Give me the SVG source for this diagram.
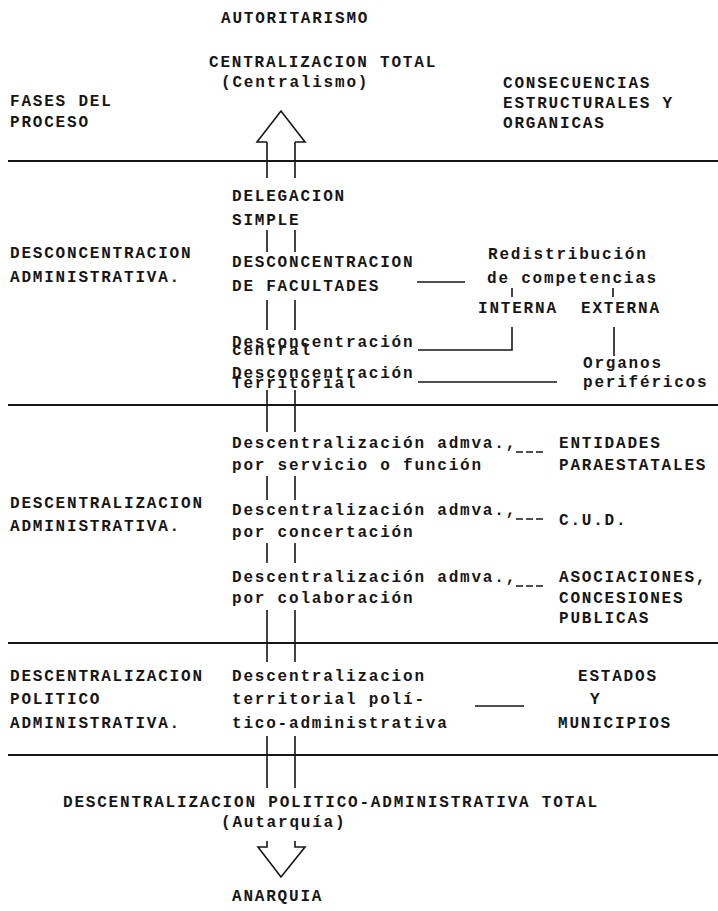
<svg xmlns="http://www.w3.org/2000/svg" width="718" height="911" viewBox="0 0 718 911">
<style>
text { font-family: "Liberation Mono", "DejaVu Sans Mono", monospace; font-size: 16px; letter-spacing: 1.8px; fill: #161616; font-weight: bold; }
.rule { stroke: #161616; stroke-width: 2; fill: none; }
.shaft { stroke: #161616; stroke-width: 1.6; fill: none; }
.conn { stroke: #161616; stroke-width: 1.6; fill: none; }
.dash { stroke: #161616; stroke-width: 1.6; fill: none; stroke-dasharray: 7 3; }
</style>
<rect width="718" height="911" fill="#ffffff"/>

<g id="rules">
  <line class="rule" x1="8" y1="161" x2="718" y2="161"/>
  <line class="rule" x1="8" y1="405" x2="718" y2="405"/>
  <line class="rule" x1="8" y1="643" x2="718" y2="643"/>
  <line class="rule" x1="8" y1="755" x2="718" y2="755"/>
</g>

<g id="connectors">
  <path class="shaft" d="M267,142 H257 L281,111 L305,142 H295"/>
  <path class="shaft" d="M267,142 V178 M295,142 V178"/>
  <path class="shaft" d="M267,230 V252 M295,230 V252"/>
  <path class="shaft" d="M267,300 V330 M295,300 V330"/>
  <path class="shaft" d="M267,390 V432 M295,390 V432"/>
  <path class="shaft" d="M267,476 V500 M295,476 V500"/>
  <path class="shaft" d="M267,543 V563 M295,543 V563"/>
  <path class="shaft" d="M267,610 V662 M295,610 V662"/>
  <path class="shaft" d="M267,736 V788 M295,736 V788"/>
  <path class="shaft" d="M267,841 V847 H258 L281,877 L305,847 H295 V841"/>
  <line class="conn" x1="417" y1="282" x2="465" y2="282"/>
  <line class="conn" x1="512" y1="288" x2="512" y2="297"/>
  <line class="conn" x1="613" y1="288" x2="613" y2="297"/>
  <path class="conn" d="M418,350 H512 V327"/>
  <line class="conn" x1="614" y1="327" x2="614" y2="356"/>
  <line class="conn" x1="418" y1="382" x2="557" y2="382"/>
  <line class="dash" x1="516" y1="452" x2="545" y2="452"/>
  <line class="dash" x1="516" y1="519" x2="545" y2="519"/>
  <line class="dash" x1="516" y1="586" x2="545" y2="586"/>
  <line class="conn" x1="475" y1="706" x2="524" y2="706"/>
</g>

<g id="top">
  <text x="221" y="23">AUTORITARISMO</text>
  <text x="209" y="67">CENTRALIZACION TOTAL</text>
  <text x="221" y="87">(Centralismo)</text>
</g>
<g id="header-left">
  <text x="10" y="106">FASES DEL</text>
  <text x="10" y="127">PROCESO</text>
</g>
<g id="header-right">
  <text x="503" y="88">CONSECUENCIAS</text>
  <text x="503" y="108">ESTRUCTURALES Y</text>
  <text x="503" y="128">ORGANICAS</text>
</g>

<g id="phase1">
  <text x="10" y="258">DESCONCENTRACION</text>
  <text x="10" y="282">ADMINISTRATIVA.</text>
</g>
<g id="delegacion">
  <text x="232" y="201">DELEGACION</text>
  <text x="232" y="225">SIMPLE</text>
</g>
<g id="desc-facultades">
  <text x="232" y="267">DESCONCENTRACION</text>
  <text x="232" y="291">DE FACULTADES</text>
</g>
<g id="redistribucion">
  <text x="488" y="259">Redistribución</text>
  <text x="487" y="283">de competencias</text>
</g>
<g id="interna"><text x="478" y="313">INTERNA</text></g>
<g id="externa"><text x="581" y="313">EXTERNA</text></g>
<g id="desc-central">
  <text x="232" y="347">Desconcentración</text>
  <text x="232" y="355">central</text>
</g>
<g id="desc-territorial">
  <text x="232" y="378">Desconcentración</text>
  <text x="232" y="388">Territorial</text>
</g>
<g id="organos">
  <text x="583" y="368">Organos</text>
  <text x="583" y="387">periféricos</text>
</g>

<g id="phase2">
  <text x="10" y="508">DESCENTRALIZACION</text>
  <text x="10" y="531">ADMINISTRATIVA.</text>
</g>
<g id="desc-servicio">
  <text x="232" y="448">Descentralización admva.,</text>
  <text x="232" y="470">por servicio o función</text>
</g>
<g id="entidades">
  <text x="559" y="448">ENTIDADES</text>
  <text x="559" y="470">PARAESTATALES</text>
</g>
<g id="desc-concertacion">
  <text x="232" y="515">Descentralización admva.,</text>
  <text x="232" y="537">por concertación</text>
</g>
<g id="cud"><text x="559" y="525">C.U.D.</text></g>
<g id="desc-colaboracion">
  <text x="232" y="582">Descentralización admva.,</text>
  <text x="232" y="603">por colaboración</text>
</g>
<g id="asociaciones">
  <text x="559" y="582">ASOCIACIONES,</text>
  <text x="559" y="603">CONCESIONES</text>
  <text x="559" y="623">PUBLICAS</text>
</g>

<g id="phase3">
  <text x="10" y="681">DESCENTRALIZACION</text>
  <text x="10" y="704">POLITICO</text>
  <text x="10" y="728">ADMINISTRATIVA.</text>
</g>
<g id="desc-territorial-politica">
  <text x="232" y="681">Descentralizacion</text>
  <text x="232" y="704">territorial polí-</text>
  <text x="232" y="728">tico-administrativa</text>
</g>
<g id="estados">
  <text x="578" y="681">ESTADOS</text>
  <text x="590" y="704">Y</text>
  <text x="558" y="728">MUNICIPIOS</text>
</g>

<g id="bottom">
  <text x="63" y="807">DESCENTRALIZACION POLITICO-ADMINISTRATIVA TOTAL</text>
  <text x="221" y="827">(Autarquía)</text>
  <text x="232" y="901">ANARQUIA</text>
</g>
</svg>
